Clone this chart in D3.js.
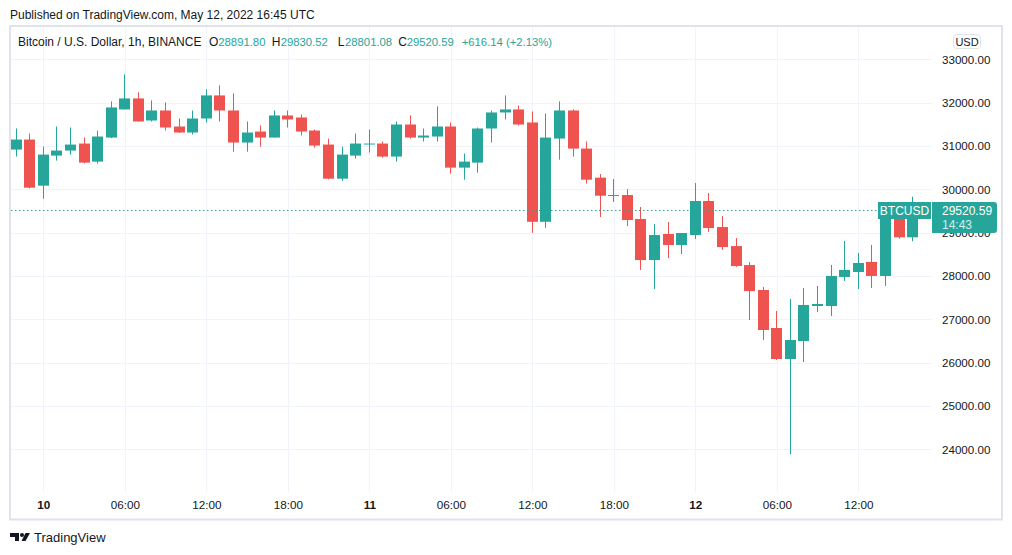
<!DOCTYPE html>
<html>
<head>
<meta charset="utf-8">
<script src="https://cdn.jsdelivr.net/npm/d3@7"></script>
<style>
  html, body { margin: 0; padding: 0; background: #ffffff; }
  svg { display: block; font-family: "Liberation Sans", Arial, sans-serif; }
</style>
</head>
<body>
<svg id="chart" width="1012" height="555"></svg>
<script>
// ---------- DATA (BTCUSD, 1h, Binance, May 9 22:00 – May 12 16:00 UTC) ----------
const firstCandle = Date.UTC(2022, 4, 9, 22);
const opens  = [30917,31148,30083,30778,30894,31056,30639,31194,31843,32097,
                31588,31819,31449,31310,31634,32167,31819,31079,31333,31194,
                31704,31657,31356,31032,30245,30778,31040,31056,30755,31495,
                31194,31218,31449,30500,30616,31403,31773,31843,31542,29250,
                31171,31819,30940,30269,29845,29868,29314,28367,28968,28714,
                28945,29730,29129,28690,28252,27677,26799,26083,26499,27307,
                27307,27977,28092,28323,28000,29380,28891.80];
const highs  = [31403,31287,30986,31449,31426,31194,31356,32028,32653,32236,
                32051,32005,31634,31819,32306,32398,32213,31565,31472,31819,
                31819,31727,31380,31171,30986,31287,31380,31102,31565,31704,
                31403,31912,31542,30824,31426,31819,32167,31935,31796,31750,
                32028,31843,31102,30353,30238,30007,29591,29199,29245,28991,
                30145,29915,29383,28875,28321,27746,27192,27469,27723,27769,
                28254,28808,28531,28716,29560,29500,29830.52];
const lows   = [30755,30020,29782,30662,30801,30600,30593,31180,31843,31560,
                31565,31356,31300,31264,31542,31565,30870,30870,30986,31194,
                31426,31241,30963,30230,30199,30708,30847,30731,30639,31171,
                31102,31102,30361,30222,30384,31079,31611,31472,28995,29111,
                30685,30755,30130,29360,29707,29152,28136,27697,28413,28506,
                28852,29014,28598,28210,26984,26522,26060,23889,26014,27169,
                27076,27885,27700,27723,27770,28860,28801.08];
const closes = [31148,30037,30801,30894,31032,30616,31218,31889,32097,31565,
                31819,31426,31310,31634,32167,31819,31079,31310,31194,31704,
                31611,31333,31009,30245,30801,31056,31056,30755,31495,31194,
                31241,31449,30500,30639,31403,31773,31843,31495,29250,31194,
                31819,30940,30222,29852,29868,29291,28367,28945,28714,28991,
                29730,29106,28667,28229,27651,26753,26083,26522,27330,27353,
                28000,28139,28300,28000,29380,28891.80,29520.59];
const priceTicks = [24000,25000,26000,27000,28000,29000,30000,31000,32000,33000];
const timeTickLabels = ["10","06:00","12:00","18:00","11","06:00","12:00","18:00","12","06:00","12:00"];
const lastPrice = 29520.59;
const lastPriceLabel = "29520.59";
const countdown = "14:43";
const headerTitle = "Bitcoin / U.S. Dollar, 1h, BINANCE";
const headerLetters = ["O","H","L","C"];
const headerValues = ["28891.80","29830.52","28801.08","29520.59"];
const headerChange = "+616.14 (+2.13%)";

// ---------- SETUP ----------
const UP = "#26a69a", DOWN = "#ef5350", TEXT = "#131722", GRID = "#f0f3fa", FRAME = "#e0e3eb";
const FONT = "Liberation Sans, Arial, sans-serif";
const svg = d3.select("#chart");
const plot = {left: 11, right: 932, top: 27, bottom: 492};

const times = d3.utcHour.range(firstCandle, Date.UTC(2022, 4, 12, 17));
const candles = times.map((t, i) => ({t, o: opens[i], h: highs[i], l: lows[i], c: closes[i]}));
const timeTicks = d3.utcHour.every(6).range(Date.UTC(2022, 4, 10, 0), Date.UTC(2022, 4, 12, 13));

const x = d3.scaleUtc()
  .domain([Date.UTC(2022, 4, 10, 0), Date.UTC(2022, 4, 12, 12)])
  .range([43.3, 858.3]);
const y = d3.scaleLinear().domain([24000, 33000]).range([449.3, 59.3]);

svg.append("defs").append("clipPath").attr("id", "plotclip")
  .append("rect").attr("x", plot.left).attr("y", plot.top)
  .attr("width", plot.right - plot.left).attr("height", plot.bottom - plot.top);

// ---------- GRID ----------
const grid = svg.append("g").attr("shape-rendering", "crispEdges");
grid.selectAll("line.h").data(priceTicks).join("line").attr("class", "h")
  .attr("x1", plot.left).attr("x2", plot.right)
  .attr("y1", d => Math.round(y(d)) + 0.5).attr("y2", d => Math.round(y(d)) + 0.5)
  .attr("stroke", GRID).attr("stroke-width", 1);
grid.selectAll("line.v").data(timeTicks).join("line").attr("class", "v")
  .attr("y1", plot.top).attr("y2", plot.bottom)
  .attr("x1", d => Math.round(x(d)) + 0.5).attr("x2", d => Math.round(x(d)) + 0.5)
  .attr("stroke", GRID).attr("stroke-width", 1);

// ---------- PRICE AXIS ----------
const yAxis = d3.axisRight(y).tickValues(priceTicks).tickSize(0).tickPadding(10)
  .tickFormat(d => d3.format(".2f")(d));
const ya = svg.append("g").attr("transform", `translate(${plot.right},0)`).call(yAxis);
ya.select(".domain").remove();
ya.selectAll("text").attr("font-size", 11.6).attr("fill", TEXT).attr("font-family", FONT);

// ---------- TIME AXIS ----------
const xAxis = d3.axisBottom(x).tickValues(timeTicks).tickSize(0).tickPadding(9)
  .tickFormat((d, i) => timeTickLabels[i]);
const xa = svg.append("g").attr("transform", `translate(0,${plot.bottom})`).call(xAxis);
xa.select(".domain").remove();
xa.selectAll("text").attr("font-size", 11.7).attr("fill", TEXT).attr("font-family", FONT)
  .attr("font-weight", (d, i) => timeTickLabels[i].includes(":") ? "normal" : "bold");

// ---------- CANDLES ----------
const cg = svg.append("g").attr("clip-path", "url(#plotclip)");
const bodyW = 11;
const cand = cg.selectAll("g.c").data(candles).join("g").attr("class", "c");
cand.append("line")
  .attr("x1", d => Math.round(x(d.t) - bodyW / 2) + bodyW / 2)
  .attr("x2", d => Math.round(x(d.t) - bodyW / 2) + bodyW / 2)
  .attr("y1", d => y(d.h)).attr("y2", d => y(d.l))
  .attr("stroke", d => d.c >= d.o ? UP : DOWN).attr("stroke-width", 1);
cand.append("rect")
  .attr("x", d => Math.round(x(d.t) - bodyW / 2))
  .attr("width", bodyW)
  .attr("y", d => y(Math.max(d.o, d.c)))
  .attr("height", d => Math.max(1, Math.abs(y(d.o) - y(d.c))))
  .attr("fill", d => d.c >= d.o ? UP : DOWN);

// ---------- LAST PRICE LINE + LABELS ----------
const ly = Math.round(y(lastPrice)) + 0.5;
svg.append("line").attr("x1", plot.left).attr("x2", 878).attr("y1", ly).attr("y2", ly)
  .attr("stroke", UP).attr("stroke-width", 1).attr("stroke-dasharray", "1.5,2.5");
svg.append("rect").attr("x", 878).attr("y", ly - 8.5).attr("width", 53).attr("height", 17)
  .attr("fill", UP);
svg.append("text").attr("x", 904.5).attr("y", ly + 4.5).attr("text-anchor", "middle")
  .attr("font-size", 12).attr("fill", "#ffffff").text("BTCUSD");
svg.append("path")
  .attr("d", `M932,${ly - 8.5} H994 Q997,${ly - 8.5} 997,${ly - 5.5} V${ly + 19.5} Q997,${ly + 22.5} 994,${ly + 22.5} H932 Z`)
  .attr("fill", UP);
svg.append("text").attr("x", 942).attr("y", ly + 4.5).attr("font-size", 12)
  .attr("fill", "#ffffff").text(lastPriceLabel);
svg.append("text").attr("x", 942).attr("y", ly + 18).attr("font-size", 12)
  .attr("fill", "#d3eeeb").text(countdown);

// ---------- FRAME ----------
svg.append("rect").attr("x", 10).attr("y", 26).attr("width", 992).attr("height", 493.5)
  .attr("fill", "none").attr("stroke", FRAME).attr("stroke-width", 2);

// USD badge
svg.append("rect").attr("x", 953.5).attr("y", 34.5).attr("width", 27).attr("height", 14).attr("rx", 3)
  .attr("fill", "#ffffff").attr("stroke", FRAME);
svg.append("text").attr("x", 967).attr("y", 45.5).attr("text-anchor", "middle")
  .attr("font-size", 11).attr("fill", TEXT).text("USD");

// ---------- TEXTS ----------
svg.append("text").attr("x", 10).attr("y", 19).attr("font-size", 12).attr("fill", TEXT)
  .text("Published on TradingView.com, May 12, 2022 16:45 UTC");
svg.append("text").attr("x", 18).attr("y", 46).attr("font-size", 12).attr("fill", TEXT)
  .text(headerTitle);
const letterX = [209, 271.7, 337.7, 398.3];
const valueX  = [218.3, 280.7, 345, 406.7];
headerLetters.forEach((l, i) => {
  svg.append("text").attr("x", letterX[i]).attr("y", 46).attr("font-size", 12)
    .attr("fill", TEXT).text(l);
  svg.append("text").attr("x", valueX[i]).attr("y", 46).attr("font-size", 11.3)
    .attr("fill", UP).text(headerValues[i]);
});
svg.append("text").attr("x", 461.7).attr("y", 46).attr("font-size", 11.3).attr("fill", UP)
  .text(headerChange);

// ---------- LOGO ----------
const logo = svg.append("g").attr("fill", TEXT);
logo.append("path").attr("d", "M10,533 H19 V541 H15 V537 H10 Z");
logo.append("circle").attr("cx", 22).attr("cy", 535).attr("r", 2);
logo.append("path").attr("d", "M25.5,533 H30 L25.5,541 H21.5 Z");
svg.append("text").attr("x", 34).attr("y", 542).attr("font-size", 13).attr("fill", TEXT)
  .text("TradingView");
</script>
</body>
</html>
